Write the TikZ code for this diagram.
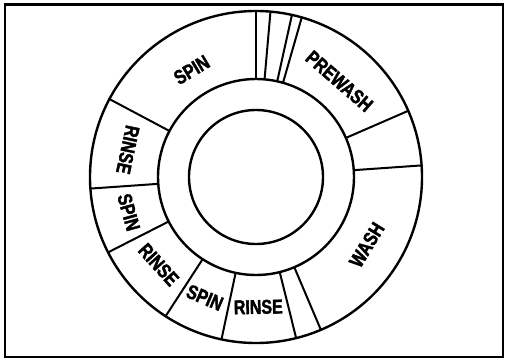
\documentclass[tikz,border=0pt]{standalone}
\usepackage{fontspec}
\newfontfamily\dialfont[FakeStretch=0.8, FakeBold=2]{Liberation Sans}

\tikzset{
    ring/.style={line width=2.4pt},
    divider/.style={line width=2pt},
    cycle/.style={font=\dialfont\bfseries\fontsize{20}{20}\selectfont, inner sep=0pt},
}

\begin{document}
\begin{tikzpicture}[x=1pt, y=1pt]
        \useasboundingbox (0,0) rectangle (505,362);
        \draw[line width=2.5pt] (5,357.5) rectangle (503,5);

        \begin{scope}[shift={(256,185)}]
            \coordinate (hub) at (0,0);

            \draw[ring] (hub) circle (166pt);
            \draw[ring] (hub) circle (98pt);
            \draw[ring] (hub) circle (67pt);

            \draw[divider] (90:98pt) -- (90:166pt);
            \draw[divider] (85:98pt) -- (85:166pt);
            \draw[divider] (77.5:98pt) -- (77.5:166pt);
            \draw[divider] (74:98pt) -- (74:166pt);
            \draw[divider] (23.5:98pt) -- (23.5:166pt);
            \draw[divider] (4:98pt) -- (4:166pt);
            \draw[divider] (293:98pt) -- (293:166pt);
            \draw[divider] (284:98pt) -- (284:166pt);
            \draw[divider] (258:98pt) -- (258:166pt);
            \draw[divider] (237:98pt) -- (237:166pt);
            \draw[divider] (207:98pt) -- (207:166pt);
            \draw[divider] (184:98pt) -- (184:166pt);
            \draw[divider] (152:98pt) -- (152:166pt);

            \node[cycle, rotate=31] (spintop) at (121:125pt) {SPIN};
            \node[cycle, rotate=-41] (prewash) at (49:127pt) {PREWASH};
            \node[cycle, rotate=58.5] (wash) at (-31.5:130pt) {WASH};
            \node[cycle, rotate=1] (rinsebot) at (271:130pt) {RINSE};
            \node[cycle, rotate=-23] (spinbot) at (247:131pt) {SPIN};
            \node[cycle, rotate=-48] (rinselow) at (222:131pt) {RINSE};
            \node[cycle, rotate=-74.5] (spinleft) at (195.5:132pt) {SPIN};
            \node[cycle, rotate=-102] (rinseleft) at (168:131pt) {RINSE};
        \end{scope}
\end{tikzpicture}
\end{document}
